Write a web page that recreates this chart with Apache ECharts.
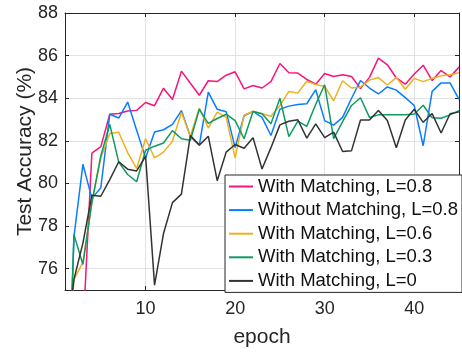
<!DOCTYPE html>
<html lang="en">
<head>
    <meta charset="UTF-8">
    <title>Test Accuracy</title>
    <style>
        html, body { margin: 0; padding: 0; background: #fff; }
    </style>
</head>
<body>
<div id="main" style="width: 462px;height: 353px;"></div>
<script src="https://cdn.jsdelivr.net/npm/echarts@6/dist/echarts.min.js"></script>
<script type="text/javascript">

    // epoch 1..45
    var epochs = [];
    for (var i = 1; i <= 45; i++) epochs.push(i);

    var names = ['With Matching, L=0.8', 'Without Matching, L=0.8', 'With Matching, L=0.6',
                 'With Matching, L=0.3', 'With Matching, L=0'];

    // accuracy (%) per epoch
    var withL08 = [60, 68, 73.0, 81.42, 81.73, 83.25, 83.28, 83.4, 83.43, 83.8,
                   83.65, 84.47, 83.94, 85.27, 84.7, 84.14, 84.82, 84.78, 85.08, 85.24,
                   84.44, 84.6, 84.48, 84.78, 85.63, 85.2, 85.18, 84.88, 84.66, 85.16,
                   85.02, 85.1, 85.02, 84.45, 84.98, 85.88, 85.57, 84.95, 84.66, 85.14,
                   85.55, 84.83, 85.3, 85.0, 85.46];
    var withoutL08 = [65, 77.5, 80.9, 79.3, 79.8, 83.25, 83.07, 83.82, 82.5, 81.2,
                      82.42, 82.52, 82.77, 83.42, 82.2, 81.8, 84.29, 83.48, 83.37, 81.68,
                      83.18, 83.38, 83.1, 82.25, 83.48, 83.63, 83.71, 83.74, 84.4, 82.95,
                      82.74, 83.1, 84.0, 84.83, 84.48, 84.2, 84.53, 84.38, 84.03, 83.66,
                      81.77, 84.32, 84.72, 84.72, 83.95];
    var withL06 = [70, 75.5, 76.3, 79.1, 81.2, 82.35, 82.4, 81.45, 80.7, 82.1,
                   81.2, 81.47, 81.98, 83.33, 82.22, 83.54, 82.6, 83.35, 83.1, 81.2,
                   83.2, 83.39, 83.27, 83.15, 83.65, 84.32, 84.24, 84.8, 84.64, 84.55,
                   83.88, 84.82, 84.48, 84.52, 84.85, 84.97, 84.62, 84.97, 84.42, 84.93,
                   84.78, 84.93, 85.05, 85.1, 85.2];
    var withL03 = [65, 77.6, 76.2, 79.1, 81.3, 82.77, 81.0, 80.42, 80.08, 81.56,
                   81.75, 81.9, 82.48, 82.1, 82.03, 83.48, 82.82, 83.05, 83.25, 82.95,
                   82.1, 83.38, 83.27, 82.8, 84.0, 82.2, 82.93, 82.68, 83.72, 84.63,
                   82.1, 82.9, 83.66, 84.02, 83.1, 83.22, 83.22, 83.22, 83.22, 83.26,
                   83.67, 83.08, 83.06, 83.22, 83.42];
    var withL0 = [72, 75.5, 77.2, 79.45, 79.4, 80.18, 81.02, 80.67, 80.59, 81.27,
                  75.23, 77.65, 79.1, 79.5, 82.25, 81.8, 82.22, 80.13, 81.47, 81.83,
                  81.65, 82.15, 80.68, 81.68, 82.75, 82.92, 82.99, 82.13, 82.8, 82.15,
                  82.41, 81.5, 81.54, 82.98, 82.98, 83.42, 82.95, 81.68, 82.98, 83.48,
                  82.87, 83.28, 82.37, 83.27, 83.36];

    var colors = ['#f7157b', '#0a7dff', '#edb120', '#0f9a62', '#333333'];
    var allData = [withL08, withoutL08, withL06, withL03, withL0];

    var axisColor = '#262626';
    var font = 'Liberation Sans, Arial, Helvetica, sans-serif';

    function pairs(arr) {
        return epochs.map(function (e, k) { return [e, arr[k]]; });
    }

    var series = allData.map(function (arr, k) {
        return {
            name: names[k],
            type: 'line',
            data: pairs(arr),
            symbol: 'none',
            clip: true,
            animation: false,
            lineStyle: { color: colors[k], width: 1.5 },
            itemStyle: { color: colors[k] }
        };
    });

    // box axes (MATLAB style, ticks inside on all four sides)
    function boxAxis(pos, isX) {
        return {
            type: 'value',
            position: pos,
            min: isX ? 1 : 75,
            max: isX ? 45 : 88,
            splitNumber: isX ? 5 : 6,
            axisLine: { show: true, onZero: false, lineStyle: { color: axisColor, width: 1 } },
            axisTick: { show: true, inside: true, length: 4, lineStyle: { color: axisColor } },
            axisLabel: { show: false },
            splitLine: { show: false }
        };
    }

    var xBottom = boxAxis('bottom', true);
    xBottom.splitLine = { show: true, lineStyle: { color: '#e2e2e2', width: 1 } };
    xBottom.axisLabel = {
        show: true, color: axisColor, fontSize: 18, fontFamily: font, margin: 10,
        formatter: function (v) { return (v === 1 || v === 45) ? '' : v; }
    };
    xBottom.name = 'epoch';
    xBottom.nameLocation = 'middle';
    xBottom.nameGap = 37;
    xBottom.nameMoveOverlap = false;
    xBottom.nameTextStyle = { color: axisColor, fontSize: 21, fontFamily: font };

    var yLeft = boxAxis('left', false);
    yLeft.splitLine = { show: true, lineStyle: { color: '#e2e2e2', width: 1 } };
    yLeft.axisLabel = {
        show: true, color: axisColor, fontSize: 18, fontFamily: font, margin: 7,
        formatter: function (v) { return v === 75 ? '' : v; }
    };
    yLeft.name = 'Test Accuracy (%)';
    yLeft.nameLocation = 'middle';
    yLeft.nameGap = 29.5;
    yLeft.nameMoveOverlap = false;
    yLeft.nameTextStyle = { color: axisColor, fontSize: 21, fontFamily: font };

    var option = {
        backgroundColor: '#fff',
        animation: false,
        grid: { left: 65, top: 13, width: 398, height: 284 },
        xAxis: [xBottom, boxAxis('top', true)],
        yAxis: [yLeft, boxAxis('right', false)],
        legend: {
            orient: 'vertical',
            left: 225,
            top: 175,
            padding: [2, 4, 2, 4],
            icon: 'rect',
            itemWidth: 24,
            itemHeight: 2,
            itemGap: 4.6,
            backgroundColor: '#fff',
            borderColor: axisColor,
            borderWidth: 1,
            borderRadius: 0,
            textStyle: { color: '#111', fontSize: 18.5, fontFamily: font, lineHeight: 18 },
            data: names
        },
        series: series
    };

    var myChart = echarts.init(document.getElementById('main'));
    myChart.setOption(option);
</script>
</body>
</html>
